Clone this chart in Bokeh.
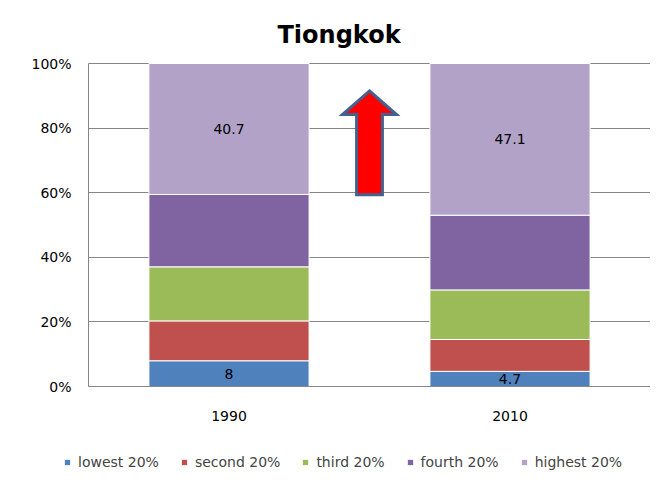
from bokeh.plotting import figure
from bokeh.models import (Range1d, PrintfTickFormatter, Legend, LegendItem,
                          ColumnDataSource, FixedTicker)
from bokeh.core.properties import value
from bokeh.embed import file_html
from bokeh.resources import INLINE

# ---- data ----
years = ["1990", "2010"]
groups = ["lowest 20%", "second 20%", "third 20%", "fourth 20%", "highest 20%"]
lowest = [8.0, 4.7]
second = [12.4, 9.9]
third = [16.8, 15.4]
fourth = [22.5, 23.2]
highest = [40.7, 47.1]
colors = ["#4F81BD", "#C0504D", "#9BBB59", "#8064A2", "#B3A2C7"]
y_ticks = [0, 20, 40, 60, 80, 100]

# layout: frame extends beyond the plotting area so labels / legend fit inside it
X_MIN = -0.2847
Y_MIN = -29.1
Y_MAX = 103.72

# decorative arrow (x in category units, y in %)
ARROW_X = 1.0
ARROW_HEAD_HALF = 0.096
ARROW_SHAFT_HALF = 0.046
ARROW_TIP = 91.5
ARROW_HEAD_BASE = 84.2
ARROW_BOTTOM = 59.4

FONT = "DejaVu Sans"

n = len(years)
xpos = [i + 0.5 for i in range(n)]
series = [lowest, second, third, fourth, highest]
totals = [sum(s[i] for s in series) for i in range(n)]
keys = ["s0", "s1", "s2", "s3", "s4"]
data = {"x": xpos}
for k, s in zip(keys, series):
    data[k] = [v / t * 100 for v, t in zip(s, totals)]
src = ColumnDataSource(data)

p = figure(x_range=Range1d(X_MIN, n), y_range=Range1d(Y_MIN, Y_MAX),
           width=650, height=480, output_backend="svg", toolbar_location=None,
           min_border_left=8, min_border_right=0, min_border_top=51, min_border_bottom=0)
p.outline_line_color = None

# grid lines (only over the plotting area, 0..n)
p.xgrid.grid_line_color = None
if "cross_bounds" in p.ygrid[0].properties():
    p.ygrid.ticker = FixedTicker(ticks=y_ticks)
    p.ygrid.grid_line_color = "#868686"
    p.ygrid.cross_bounds = (0, n)
else:
    p.ygrid.grid_line_color = None
    p.segment(x0=[0] * len(y_ticks), x1=[n] * len(y_ticks), y0=y_ticks, y1=y_ticks,
              line_color="#868686", line_width=1)

rends = p.vbar_stack(keys, x="x", width=0.57, source=src, fill_color=colors,
                     line_color="white", line_width=1)

# labels on lowest and highest
low_pct = data["s0"]
high_pct = data["s4"]
lab_src = ColumnDataSource(dict(
    x=xpos + xpos,
    y=[v / 2 for v in low_pct] + [100 - v / 2 for v in high_pct],
    t=[f"{v:g}" for v in lowest] + [f"{v:g}" for v in highest]))
p.text(x="x", y="y", text="t", source=lab_src, text_align="center", text_baseline="middle",
       text_font=value(FONT), text_font_size="14px", text_color="black")

# arrow
ax = [ARROW_X, ARROW_X + ARROW_HEAD_HALF, ARROW_X + ARROW_SHAFT_HALF, ARROW_X + ARROW_SHAFT_HALF,
      ARROW_X - ARROW_SHAFT_HALF, ARROW_X - ARROW_SHAFT_HALF, ARROW_X - ARROW_HEAD_HALF]
ay = [ARROW_TIP, ARROW_HEAD_BASE, ARROW_HEAD_BASE, ARROW_BOTTOM, ARROW_BOTTOM,
      ARROW_HEAD_BASE, ARROW_HEAD_BASE]
p.patch(ax, ay, fill_color="#FF0000", line_color="#41618F", line_width=3, line_join="miter")

# title
p.title.text = "Tiongkok"
p.title.align = "left"
p.title.offset = 269
p.title.standoff = 5
p.title.text_font = FONT
p.title.text_font_style = "bold"
p.title.text_font_size = "24px"
p.title.text_color = "black"

# axes
p.yaxis.ticker = FixedTicker(ticks=y_ticks)
p.yaxis.formatter = PrintfTickFormatter(format="%d%%")
p.yaxis.bounds = (0, 100)
p.yaxis.fixed_location = 0
p.xaxis.ticker = FixedTicker(ticks=xpos)
p.xaxis.major_label_overrides = {x: y for x, y in zip(xpos, years)}
p.xaxis.bounds = (0, n)
p.xaxis.fixed_location = 0
for ax_ in (p.xaxis[0], p.yaxis[0]):
    ax_.axis_line_color = "#868686"
    ax_.major_tick_line_color = None
    ax_.minor_tick_line_color = None
    ax_.major_tick_out = 0
    ax_.major_tick_in = 0
    ax_.major_label_text_font = FONT
    ax_.major_label_text_font_size = "14px"
    ax_.major_label_text_color = "black"
p.yaxis.major_label_standoff = 17
p.xaxis.major_label_standoff = 24

legend = Legend(items=[LegendItem(label=g, renderers=[r]) for g, r in zip(groups, rends)],
                orientation="horizontal", location=(55, 10),
                glyph_width=8, glyph_height=8, label_standoff=7, spacing=21,
                label_text_font=FONT, label_text_font_size="14px",
                border_line_color=None, background_fill_alpha=0, padding=0, margin=0)
p.add_layout(legend, "center")

open("out.html", "w").write(file_html(p, INLINE))
